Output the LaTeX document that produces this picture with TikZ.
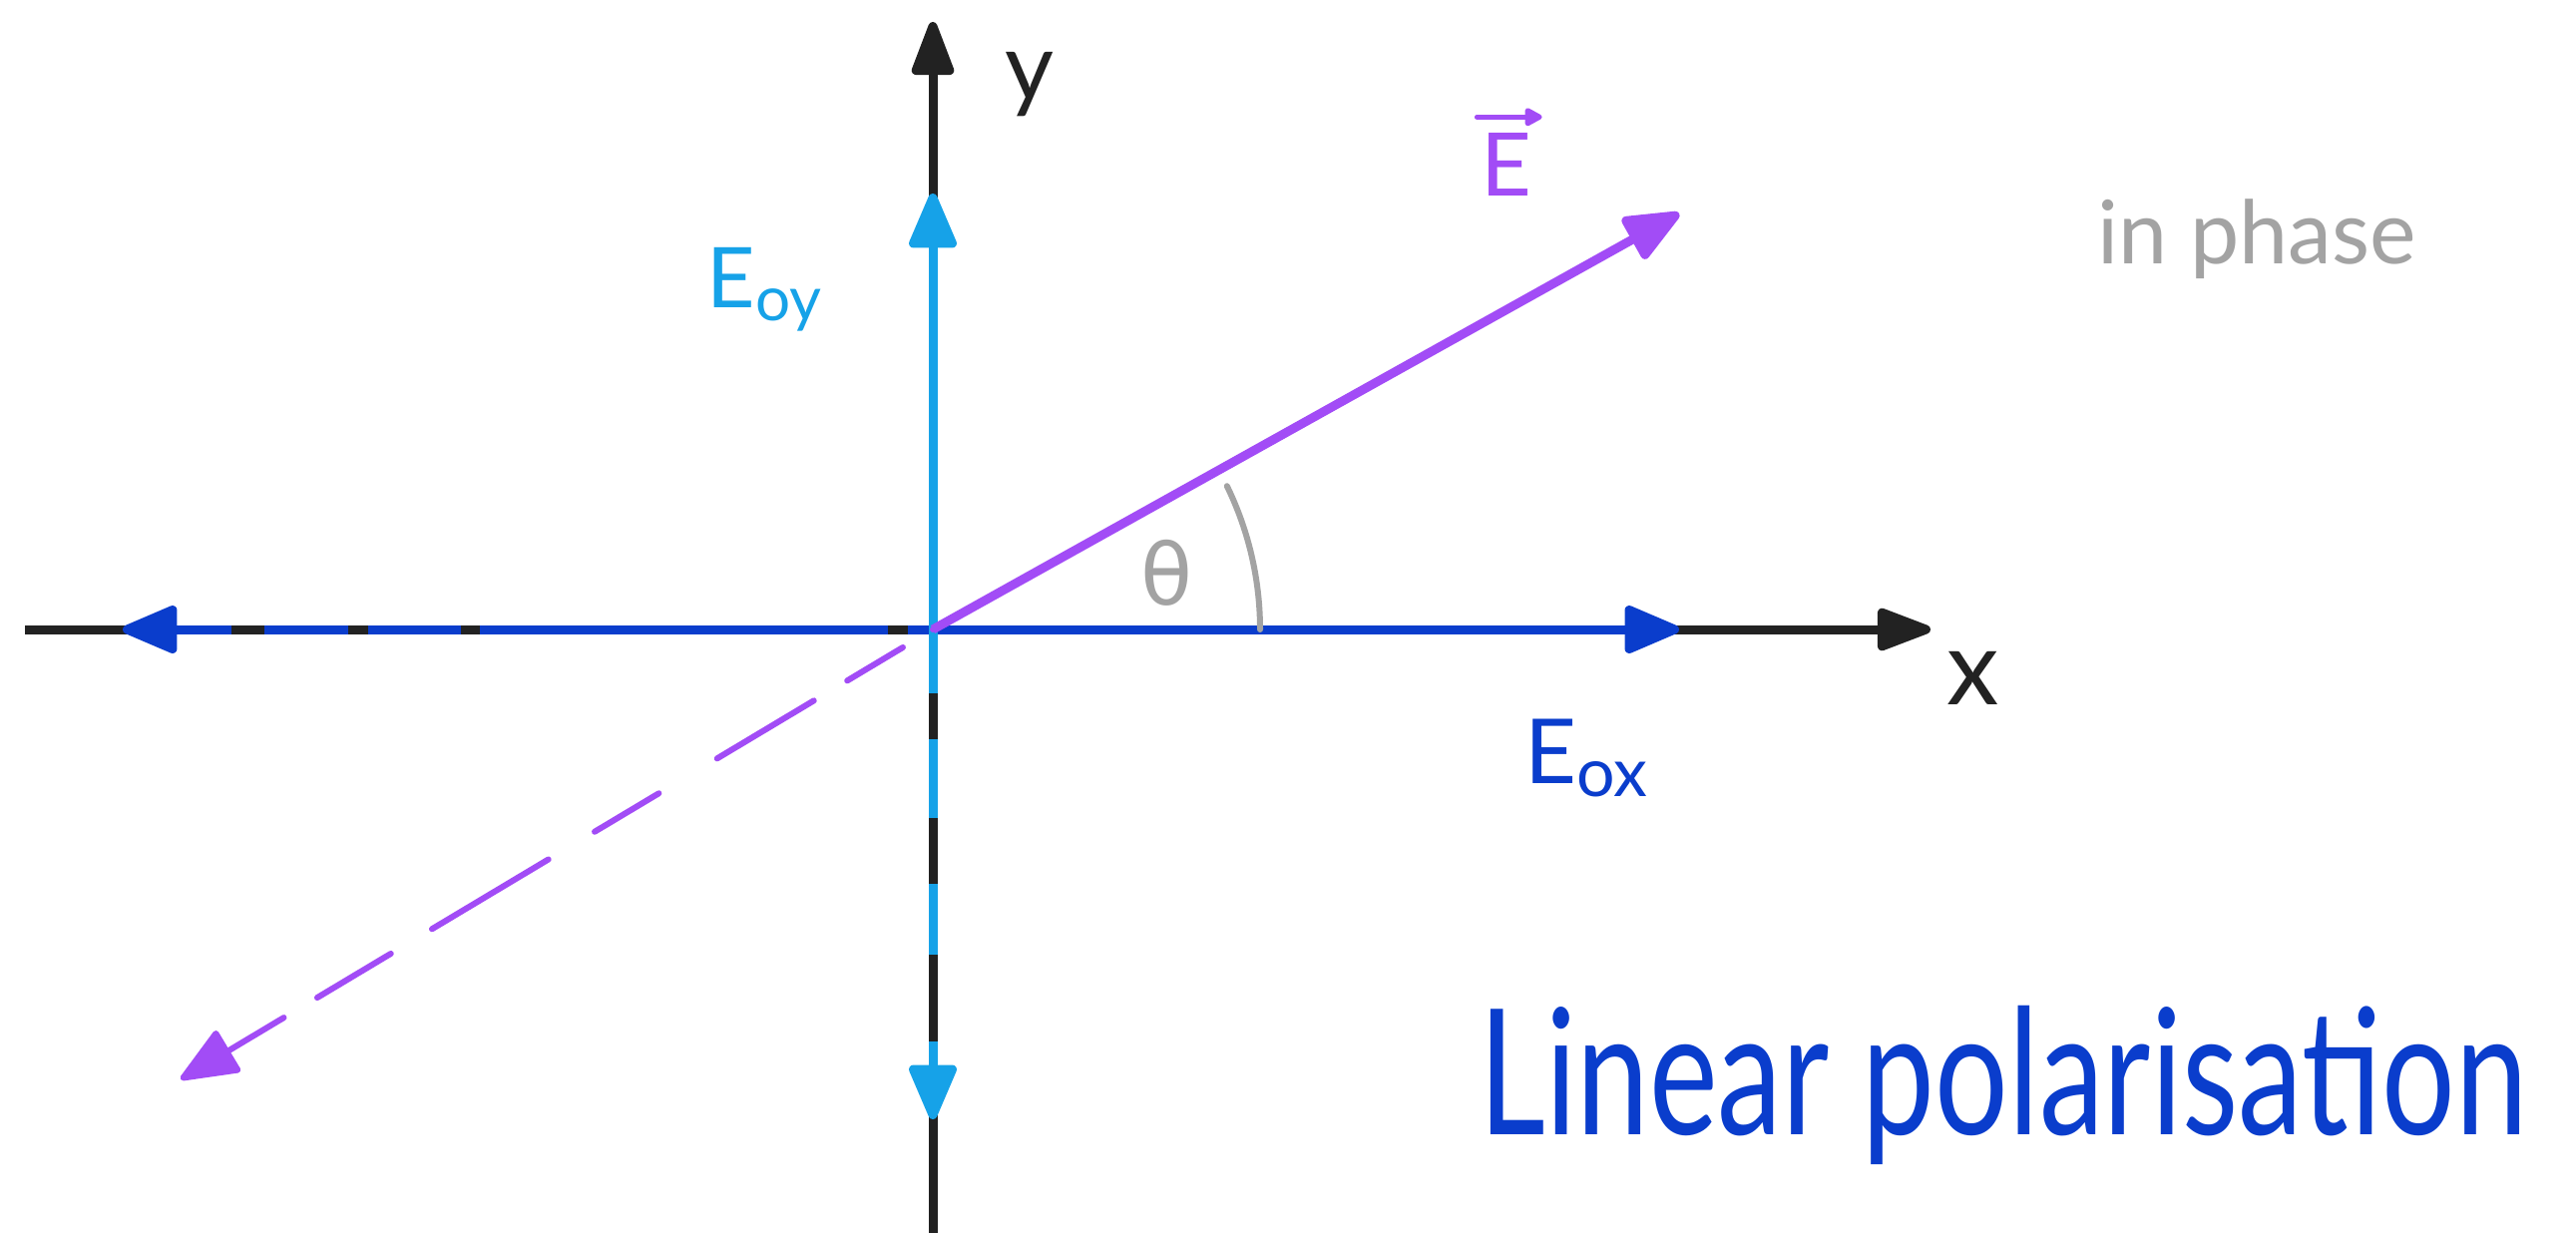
\documentclass[tikz,border=0pt]{standalone}
\usepackage{fontspec}
\setmainfont{Lato}
\newfontfamily\symfont{DejaVu Sans}
\usetikzlibrary{arrows.meta}
\definecolor{ink}{HTML}{222222}
\definecolor{exblue}{HTML}{0A3DCC}
\definecolor{eyblue}{HTML}{16A2E8}
\definecolor{epurple}{HTML}{A24CF6}
\definecolor{notegray}{HTML}{A3A3A3}
\tikzset{
  tip/.style={-{Triangle[length=62pt,width=50pt,round]}},
  axistip/.style={-{Triangle[length=62pt,width=44pt,round]}},
  axisline/.style={ink,line width=9pt,axistip},
  vecline/.style={line width=9pt,tip},
  lbl/.style={inner sep=0pt},
}
\begin{document}
\begin{tikzpicture}[x=1pt,y=-1pt]
\useasboundingbox[fill=white] (0,0) rectangle (2582,1236);
\coordinate (O) at (935,631);
\coordinate (xl) at (25,631);
\coordinate (xr) at (1935,631);
\coordinate (yb) at (935,1240);
\coordinate (yt) at (935,22);
\coordinate (exr) at (1683,631);
\coordinate (exl) at (123,631);
\coordinate (eyt) at (935,194);
\coordinate (eyb) at (935,1122);
\coordinate (ep) at (1683,214);
\coordinate (em) at (181,1082);
% axes
\draw[axisline] (xl) -- (xr);
\draw[axisline] (yb) -- (yt);
% E0x
\draw[vecline,exblue] (O) -- (exr);
\draw[vecline,exblue,dash pattern=on 25pt off 20pt on 409pt off 19pt on 93pt off 20pt on 84pt off 33pt on 300pt] (O) -- (exl);
% E0y
\draw[vecline,eyblue] (O) -- (eyt);
\draw[vecline,eyblue,dash pattern=on 64pt off 46pt on 79pt off 66pt on 71pt off 87pt on 300pt] (O) -- (eyb);
% E
\draw[vecline,epurple] (O) -- (ep);
\draw[epurple,line width=6pt,line cap=round,tip,dash pattern=on 0pt off 35pt on 65pt off 39pt on 113pt off 68pt on 75pt off 54pt on 136pt off 48pt on 86pt off 39pt on 300pt] (O) -- (em);
% angle
\draw[notegray,line width=6pt,line cap=round] (O) ++(328,0) arc[start angle=0,end angle=-26,radius=328];
% labels
\node[lbl,ink,font=\fontsize{95}{95}\selectfont] (ylab) at (1032,85) {y};
\node[lbl,ink,font=\fontsize{105}{105}\selectfont] (xlab) at (1978,680) {x};
\node[lbl,epurple,font=\fontsize{88}{88}\selectfont] (Elab) at (1510,165) {E};
\draw[epurple,line width=5pt,line cap=round,-{Triangle[length=20pt,width=20pt,round]}]
  ([xshift=-4pt,yshift=16pt]Elab.north west) -- ([xshift=10pt,yshift=16pt]Elab.north east);
\node[lbl,eyblue,font=\fontsize{84}{84}\selectfont] (eoy) at (766,290) {E\raisebox{-0.15em}{\fontsize{62}{62}\selectfont oy}};
\node[lbl,exblue,font=\fontsize{90}{90}\selectfont] (eox) at (1590,760) {E\raisebox{-0.15em}{\fontsize{68}{68}\selectfont ox}};
\node[lbl,notegray,font=\symfont\fontsize{85}{85}\selectfont] (th) at (1169,574) {θ};
\node[lbl,notegray,font=\fontsize{88}{88}\selectfont] (phase) at (2262,240) {in phase};
\node[lbl,exblue,yscale=1.35,font=\fontsize{130}{130}\selectfont] (title) at (2008,1088) {Linear polarisation};
\end{tikzpicture}
\end{document}
